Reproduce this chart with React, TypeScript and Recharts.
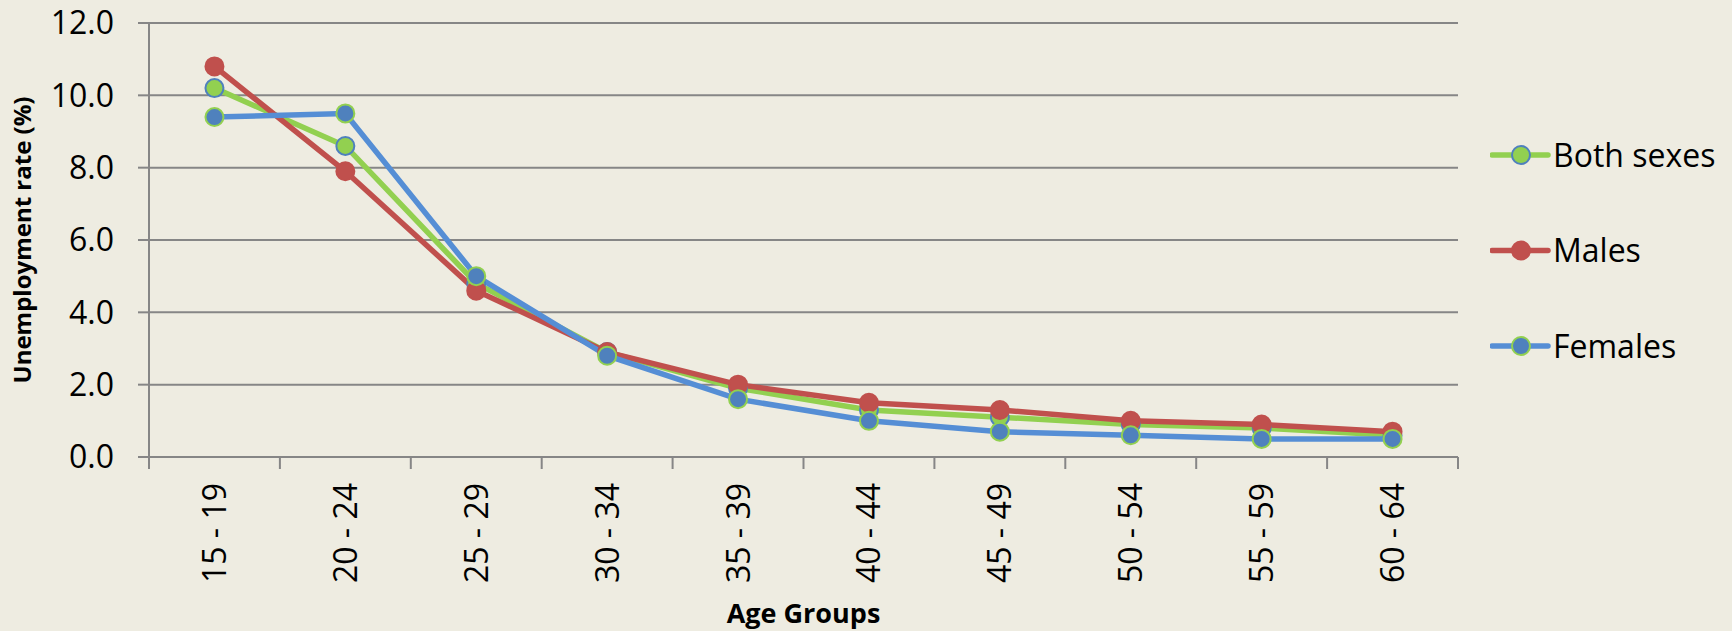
import React from 'react';
import { LineChart, Line, XAxis, YAxis, CartesianGrid, Legend } from 'recharts';

const AGE_GROUPS = ['15 - 19', '20 - 24', '25 - 29', '30 - 34', '35 - 39', '40 - 44', '45 - 49', '50 - 54', '55 - 59', '60 - 64'];
const BOTH_SEXES = [10.2, 8.6, 4.8, 2.9, 1.9, 1.3, 1.1, 0.9, 0.8, 0.6];
const MALES = [10.8, 7.9, 4.6, 2.9, 2.0, 1.5, 1.3, 1.0, 0.9, 0.7];
const FEMALES = [9.4, 9.5, 5.0, 2.8, 1.6, 1.0, 0.7, 0.6, 0.5, 0.5];
const Y_TICKS = [0, 2, 4, 6, 8, 10, 12];

const SERIES = [
  { key: 'both', name: 'Both sexes', line: '#92D050', fill: '#92D050', ring: '#4F81BD' },
  { key: 'males', name: 'Males', line: '#C0504D', fill: '#C0504D', ring: '#C0504D' },
  { key: 'females', name: 'Females', line: '#558ED5', fill: '#4F81BD', ring: '#92D050' },
];

const data = AGE_GROUPS.map((age, i) => ({
  age,
  both: BOTH_SEXES[i],
  males: MALES[i],
  females: FEMALES[i],
}));

const FONT = '"Open Sans", sans-serif';
const GRAY = '#868686';
const BG = '#EEECE1';

// rotated label in the band centre, plus Excel-style tick marks on the band edges
const AgeTick = ({ x, y, payload }: any) => {
  const half = payload.offset ?? 0;
  const isLast = payload.index === AGE_GROUPS.length - 1;
  return (
    <g>
      <line x1={x - half} x2={x - half} y1={y} y2={y + 12} stroke={GRAY} strokeWidth={2} />
      {isLast && <line x1={x + half} x2={x + half} y1={y} y2={y + 12} stroke={GRAY} strokeWidth={2} />}
      <g transform={`translate(${x},${y + 26})`}>
        <text transform="rotate(-90)" textAnchor="end" dy="0.36em" fontSize={32} fontFamily={FONT} fill="#000">
          {payload.value}
        </text>
      </g>
    </g>
  );
};

const YTitle = ({ viewBox }: any) => {
  const cx = viewBox.x + 22;
  const cy = viewBox.y + viewBox.height / 2;
  return (
    <text
      x={cx}
      y={cy}
      transform={`rotate(-90, ${cx}, ${cy})`}
      textAnchor="middle"
      dy="0.36em"
      fontSize={24}
      fontWeight={700}
      fontFamily={FONT}
      fill="#000"
    >
      Unemployment rate (%)
    </text>
  );
};

const LegendBox = () => (
  <svg width={240} height={250}>
    {SERIES.map((s, i) => {
      const cy = 25 + i * 95.5;
      return (
        <g key={s.key}>
          <line x1={2} x2={58} y1={cy} y2={cy} stroke={s.line} strokeWidth={5.5} strokeLinecap="round" />
          <circle cx={31} cy={cy} r={9} fill={s.fill} stroke={s.ring} strokeWidth={2} />
          <text x={63} y={cy} dy="0.36em" fontSize={32} fontFamily={FONT} fill="#000">
            {s.name}
          </text>
        </g>
      );
    })}
  </svg>
);

export default function App() {
  return (
    <div style={{ position: 'absolute', left: 0, top: 0, width: 1732, height: 631, background: BG }}>
      <LineChart width={1732} height={631} data={data} margin={{ top: 23, right: 274, bottom: 0, left: 0 }}>
        <CartesianGrid vertical={false} stroke={GRAY} strokeWidth={2} />
        <XAxis
          dataKey="age"
          scale="band"
          height={174}
          interval={0}
          tickSize={0}
          tickMargin={0}
          axisLine={{ stroke: GRAY, strokeWidth: 2 }}
          tickLine={false}
          tick={<AgeTick />}
          label={{
            value: 'Age Groups',
            position: 'insideBottom',
            offset: 8,
            style: { fontSize: 27, fontWeight: 700, fontFamily: FONT, fill: '#000' },
          }}
        />
        <YAxis
          domain={[0, 12]}
          ticks={Y_TICKS}
          interval={0}
          width={149}
          tickSize={11}
          tickMargin={24}
          tickFormatter={(v: number) => v.toFixed(1)}
          tick={{ fill: '#000', fontSize: 32, fontFamily: FONT }}
          axisLine={{ stroke: GRAY, strokeWidth: 2 }}
          tickLine={{ stroke: GRAY, strokeWidth: 2 }}
          label={{ content: <YTitle /> }}
        />
        <Legend
          layout="vertical"
          align="center"
          verticalAlign="middle"
          content={<LegendBox />}
          wrapperStyle={{ left: 1490, top: 130, width: 240 }}
        />
        {SERIES.map((s) => (
          <Line
            key={s.key}
            dataKey={s.key}
            name={s.name}
            stroke={s.line}
            strokeWidth={5.5}
            dot={{ r: 9, fill: s.fill, stroke: s.ring, strokeWidth: 2 }}
            activeDot={false}
            isAnimationActive={false}
          />
        ))}
      </LineChart>
    </div>
  );
}
